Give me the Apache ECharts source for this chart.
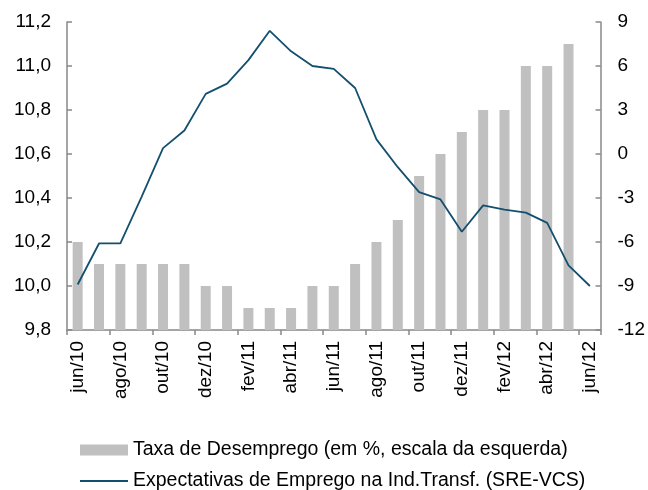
<!DOCTYPE html>
<html>
<head>
<meta charset="utf-8">
<script src="https://cdn.jsdelivr.net/npm/echarts@6/dist/echarts.min.js"></script>
<style>
  html, body { margin: 0; padding: 0; background: #fff; }
  #chart { width: 648px; height: 490px; }
</style>
</head>
<body>
<div id="chart"></div>
<script>
const months = [
  "jun/10", "jul/10", "ago/10", "set/10", "out/10", "nov/10", "dez/10",
  "jan/11", "fev/11", "mar/11", "abr/11", "mai/11", "jun/11", "jul/11",
  "ago/11", "set/11", "out/11", "nov/11", "dez/11", "jan/12", "fev/12",
  "mar/12", "abr/12", "mai/12", "jun/12"
];
// Taxa de desemprego (%), escala da esquerda
const unemployment = [
  10.2, 10.1, 10.1, 10.1, 10.1, 10.1, 10.0, 10.0, 9.9, 9.9, 9.9, 10.0,
  10.0, 10.1, 10.2, 10.3, 10.5, 10.6, 10.7, 10.8, 10.8, 11.0, 11.0, 11.1, null
];
// Expectativas de emprego (SRE-VCS), escala da direita
const expectations = [
  -8.9, -6.1, -6.1, -2.9, 0.4, 1.6, 4.1, 4.8, 6.4, 8.4, 7.0, 6.0,
  5.8, 4.5, 1.0, -0.9, -2.6, -3.1, -5.3, -3.5, -3.8, -4.0, -4.7, -7.6, -9.0
];
const barName = "Taxa de Desemprego (em %, escala da esquerda)";
const lineName = "Expectativas de Emprego na Ind.Transf. (SRE-VCS)";

const chart = echarts.init(document.getElementById("chart"));
const font = "Liberation Sans, Arial, sans-serif";
const gray = { color: "#888", width: 1.5 };
const lineColor = "#134f6e";

const option = {
  animation: false,
  textStyle: { fontFamily: font, color: "#000" },
  grid: { left: 67, right: 46, top: 22, bottom: 160 },
  legend: [
    {
      left: 75,
      top: 435,
      itemWidth: 48,
      itemHeight: 11,
      textStyle: { fontSize: 19.5, color: "#000", fontFamily: font },
      data: [{ name: barName, icon: "rect" }]
    },
    {
      left: 75,
      top: 466,
      itemWidth: 48,
      itemHeight: 2,
      textStyle: { fontSize: 19.5, color: "#000", fontFamily: font },
      data: [{ name: lineName, icon: "rect", itemStyle: { color: lineColor } }]
    }
  ],
  xAxis: {
    type: "category",
    data: months,
    boundaryGap: true,
    axisLine: { show: true, onZero: false, lineStyle: gray },
    axisTick: { show: true, interval: 1, length: 5, lineStyle: gray },
    axisLabel: { interval: 1, rotate: 90, fontSize: 19, color: "#000", margin: 11 },
    splitLine: { show: false }
  },
  yAxis: [
    {
      type: "value",
      min: 9.8,
      max: 11.2,
      interval: 0.2,
      axisLine: { show: true, lineStyle: gray },
      axisTick: { show: true, inside: true, length: 5, lineStyle: gray },
      axisLabel: {
        fontSize: 19, color: "#000", margin: 16,
        formatter: (v) => v.toFixed(1).replace(".", ",")
      },
      splitLine: { show: false }
    },
    {
      type: "value",
      min: -12,
      max: 9,
      interval: 3,
      axisLine: { show: true, lineStyle: gray },
      axisTick: { show: true, inside: true, length: 5, lineStyle: gray },
      axisLabel: { fontSize: 19, color: "#000", margin: 17 },
      splitLine: { show: false }
    }
  ],
  series: [
    {
      name: barName,
      type: "bar",
      yAxisIndex: 0,
      barWidth: 10,
      itemStyle: { color: "#c0c0c0" },
      data: unemployment
    },
    {
      name: lineName,
      type: "line",
      yAxisIndex: 1,
      symbol: "none",
      lineStyle: { color: lineColor, width: 1.8 },
      itemStyle: { color: lineColor },
      data: expectations
    }
  ]
};

chart.setOption(option);
</script>
</body>
</html>
